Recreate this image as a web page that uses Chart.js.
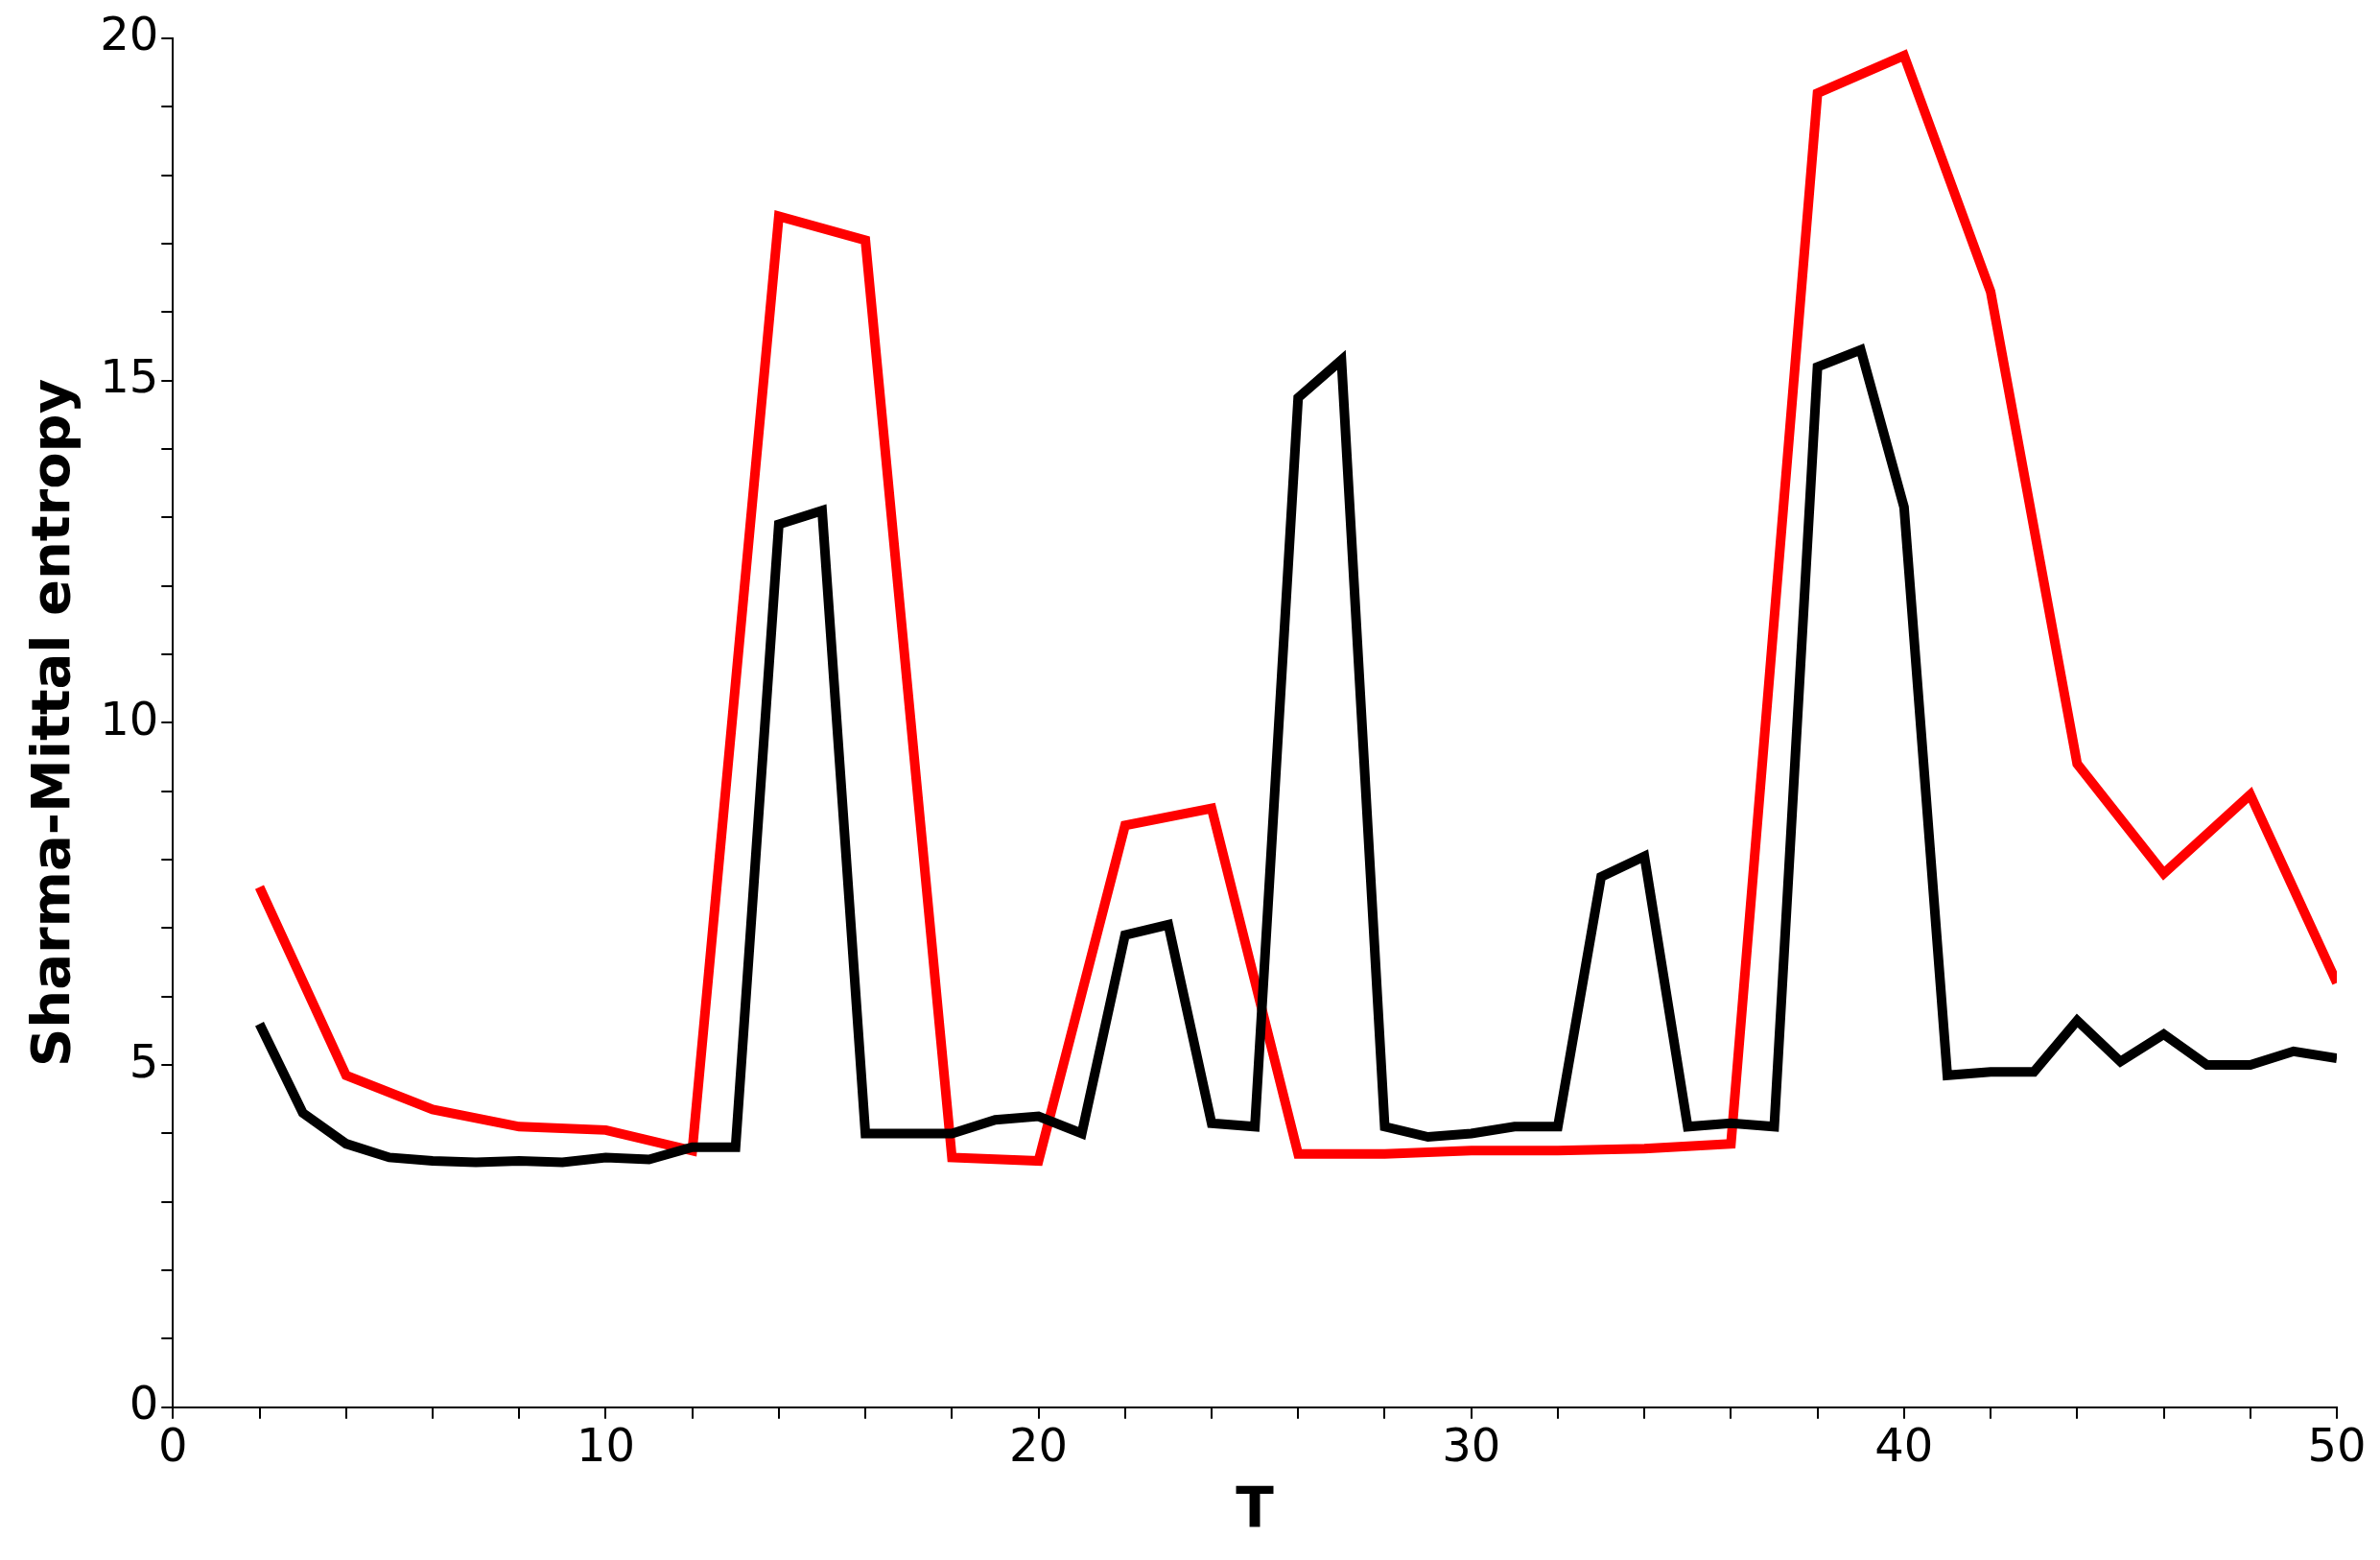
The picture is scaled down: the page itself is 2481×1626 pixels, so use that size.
<!DOCTYPE html>
<html>
<head>
<meta charset="utf-8">
<script src="https://cdn.jsdelivr.net/npm/chart.js@4/dist/chart.umd.min.js"></script>
<style>
  html, body { margin: 0; padding: 0; background: #fff; overflow: hidden; }
  #chart { display: block; width: 2481px; height: 1626px; }
</style>
</head>
<body>
<canvas id="chart" width="2481" height="1626"></canvas>
<script>
// black curve: T = 2..50
const blackT = [2,3,4,5,6,7,8,9,10,11,12,13,14,15,16,17,18,19,20,21,22,23,24,25,26,27,28,29,30,31,32,33,34,35,36,37,38,39,40,41,42,43,44,45,46,47,48,49,50];
const blackVals = [5.6,4.3,3.85,3.65,3.6,3.58,3.6,3.58,3.65,3.62,3.8,3.8,12.9,13.1,4.0,4.0,4.0,4.2,4.25,4.0,6.9,7.05,4.15,4.1,14.75,15.3,4.1,3.95,4.0,4.1,4.1,7.75,8.05,4.1,4.15,4.1,15.2,15.45,13.15,4.85,4.9,4.9,5.65,5.05,5.45,5.0,5.0,5.2,5.1];
// red curve: even T
const redT = [2,4,6,8,10,12,14,16,18,20,22,24,26,28,30,32,34,36,38,40,42,44,46,48,50];
const redVals = [7.6,4.85,4.35,4.1,4.05,3.75,17.4,17.05,3.65,3.6,8.5,8.75,3.7,3.7,3.75,3.75,3.78,3.85,19.2,19.75,16.3,9.4,7.8,8.95,6.2];

const font = 'DejaVu Sans';
const pts = (xs, ys) => xs.map((x, i) => ({ x: x, y: ys[i] }));

new Chart(document.getElementById('chart'), {
  type: 'line',
  data: {
    datasets: [
      { data: pts(blackT, blackVals), borderColor: '#000', borderWidth: 10, pointRadius: 0, tension: 0, borderJoinStyle: 'miter' },
      { data: pts(redT, redVals), borderColor: '#ff0000', borderWidth: 10, pointRadius: 0, tension: 0, borderJoinStyle: 'miter' }
    ]
  },
  options: {
    responsive: false,
    devicePixelRatio: 1,
    animation: false,
    layout: { padding: { left: 20, right: 45, top: 40, bottom: 10 } },
    plugins: { legend: { display: false }, tooltip: { enabled: false } },
    scales: {
      x: {
        type: 'linear', min: 0, max: 50,
        border: { color: '#000', width: 2 },
        grid: { display: true, drawOnChartArea: false, color: '#000', lineWidth: 2, tickLength: 12 },
        ticks: {
          stepSize: 2, autoSkip: false, maxRotation: 0, color: '#000',
          font: { family: font, size: 48 },
          callback: v => (v % 10 === 0 ? v : '')
        },
        title: { display: true, text: 'T', color: '#000', font: { family: font, size: 58, weight: 'bold' }, padding: { top: 0 } }
      },
      y: {
        min: 0, max: 20,
        border: { color: '#000', width: 2 },
        grid: { display: true, drawOnChartArea: false, color: '#000', lineWidth: 2, tickLength: 12 },
        ticks: {
          stepSize: 1, autoSkip: false, color: '#000',
          font: { family: font, size: 48 },
          callback: v => (v % 5 === 0 ? v : '')
        },
        title: { display: true, text: 'Sharma-Mittal entropy', color: '#000', font: { family: font, size: 56, weight: 'bold' }, padding: { bottom: 10 } }
      }
    }
  }
});
</script>
</body>
</html>
